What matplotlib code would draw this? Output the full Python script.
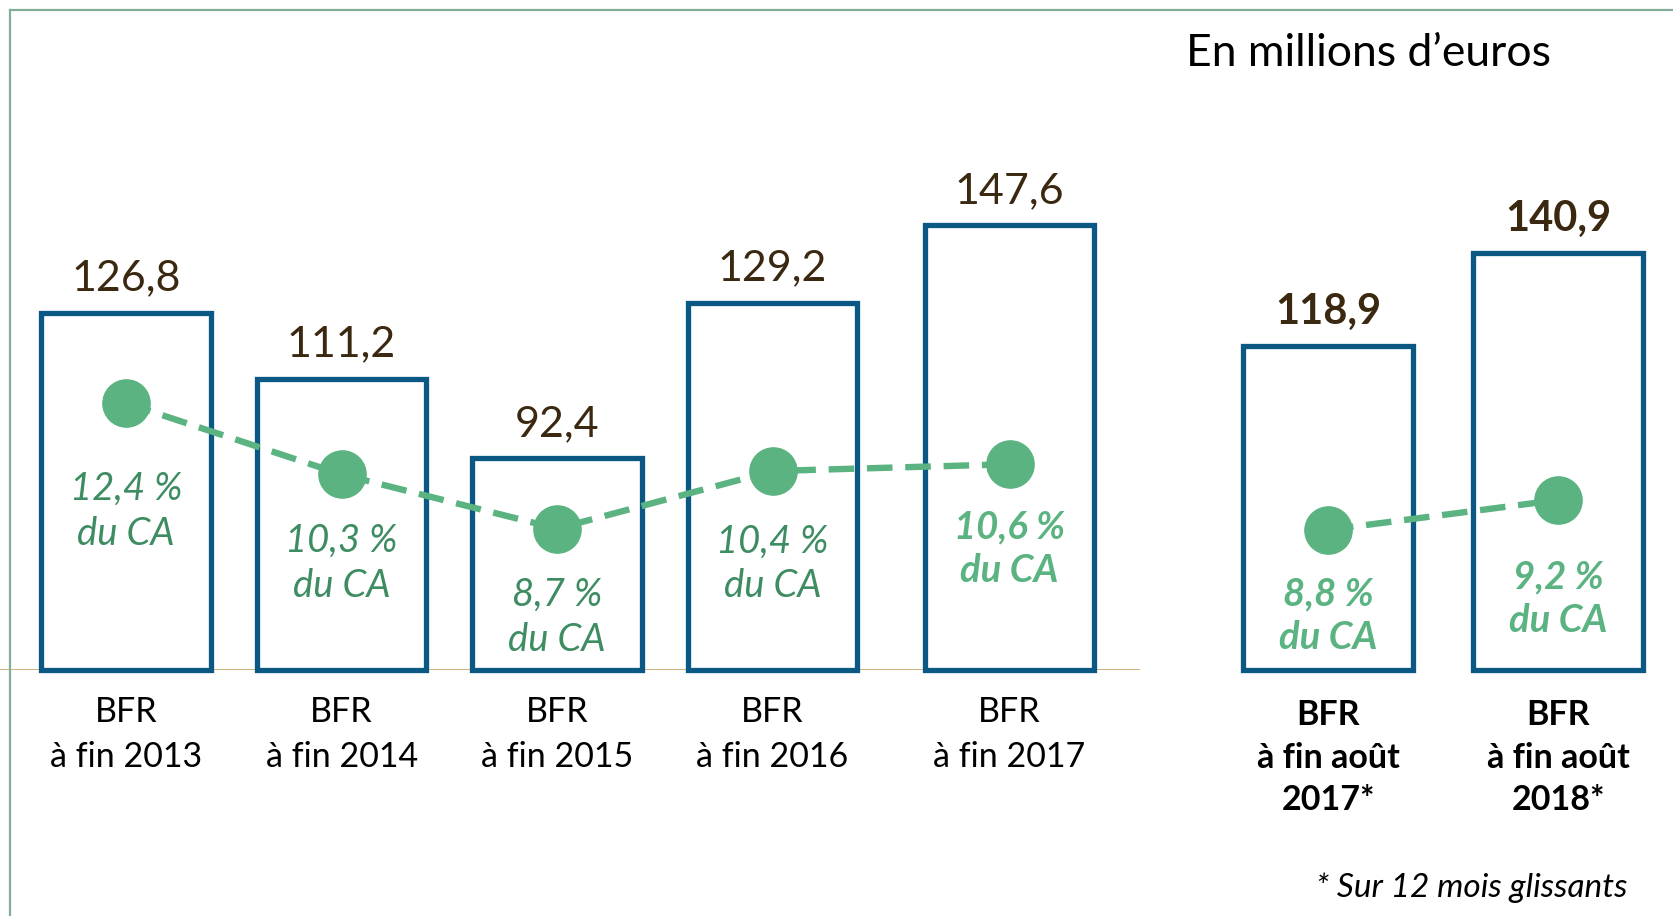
import matplotlib
matplotlib.use("Agg")
import matplotlib.pyplot as plt
from matplotlib.lines import Line2D
import numpy as np

plt.rcParams['font.family'] = ['Lato', 'DejaVu Sans']

# données (millions d'euros, % du CA)
cats_left = ["BFR\nà fin 2013", "BFR\nà fin 2014", "BFR\nà fin 2015", "BFR\nà fin 2016", "BFR\nà fin 2017"]
bfr_left = [126.8, 111.2, 92.4, 129.2, 147.6]
pct_left = [12.4, 10.3, 8.7, 10.4, 10.6]

cats_right = ["BFR\nà fin août\n2017*", "BFR\nà fin août\n2018*"]
bfr_right = [118.9, 140.9]
pct_right = [8.8, 9.2]

# décalage vertical des étiquettes % (points)
dy_left = [-78, -64, -64, -67, -61]
dy_right = [-62, -71]

blue = "#0b5885"
green = "#5bb381"
green_dark = "#3d8c62"
brown = "#3b2810"
frame_col = "#80ae98"

W, H = 1673, 916
fig = plt.figure(figsize=(W / 100, H / 100), dpi=100)

def fmt(v, suffix=""):
    return f"{v:.1f}".replace(".", ",") + suffix

base = 42.3
ytop = 198.5
y0 = (H - 670) / H
hh = 660 / H

# --- groupe de gauche
ax = fig.add_axes([0, y0, 1140 / W, hh])
xl = np.array([0, 1, 2, 3, 4.1])
ax.bar(xl, np.array(bfr_left) - base, bottom=base, width=0.785, facecolor="none",
       edgecolor=blue, linewidth=3.8, clip_on=False, zorder=2)
ax.axhline(base, color="#c4a266", lw=1.2, zorder=1)
ax.set_xlim(-0.585, 4.705)
ax.set_ylim(base, ytop)
for i, v in enumerate(bfr_left):
    ax.annotate(fmt(v), (xl[i], v), xytext=(0, 11), textcoords="offset points",
                ha="center", va="bottom", fontsize=31, color=brown)

ax2 = ax.twinx()
ax2.set_ylim(4.53, 24.0)
ax2.plot(xl, pct_left, color=green, lw=4.6, dashes=(4, 2), zorder=3)
ax2.plot(xl, pct_left, "o", color=green, ms=34, zorder=4)
for i, p in enumerate(pct_left):
    bold = i == len(pct_left) - 1
    ax2.annotate(fmt(p, " %") + "\ndu CA", (xl[i], p), xytext=(0, dy_left[i]), textcoords="offset points",
                 ha="center", va="center", fontsize=27.5, style="italic", linespacing=1.3,
                 color=green if bold else green_dark, fontweight="bold" if bold else "normal")

ax.set_xticks(xl, cats_left)
ax.tick_params(axis="x", length=0, pad=19, labelsize=24.5)
for t in ax.get_xticklabels():
    t.set_linespacing(1.47)
for a in (ax, ax2):
    a.set_yticks([])
    for s in a.spines.values():
        s.set_visible(False)
    a.patch.set_alpha(0)

# --- groupe de droite
bx = fig.add_axes([1150 / W, y0, 523 / W, hh])
xr = np.array([0, 1])
bx.bar(xr, np.array(bfr_right) - base, bottom=base, width=0.735, facecolor="none",
       edgecolor=blue, linewidth=3.8, clip_on=False, zorder=2)
bx.set_xlim(-0.774, 1.5)
bx.set_ylim(base, ytop)
for i, v in enumerate(bfr_right):
    bx.annotate(fmt(v), (xr[i], v), xytext=(0, 11), textcoords="offset points",
                ha="center", va="bottom", fontsize=30, color=brown, fontweight="bold")

bx2 = bx.twinx()
bx2.set_ylim(6.933, 15.733)
bx2.plot(xr, pct_right, color=green, lw=4.6, dashes=(4, 2), zorder=3)
bx2.plot(xr, pct_right, "o", color=green, ms=34, zorder=4)
for i, p in enumerate(pct_right):
    bx2.annotate(fmt(p, " %") + "\ndu CA", (xr[i], p), xytext=(0, dy_right[i]), textcoords="offset points",
                 ha="center", va="center", fontsize=27.5, style="italic", fontweight="bold",
                 linespacing=1.3, color=green)

bx.set_xticks(xr, cats_right)
bx.tick_params(axis="x", length=0, pad=21, labelsize=24.5)
for t in bx.get_xticklabels():
    t.set_fontweight("bold")
    t.set_linespacing(1.4)
for a in (bx, bx2):
    a.set_yticks([])
    for s in a.spines.values():
        s.set_visible(False)
    a.patch.set_alpha(0)

# cadre
fig.add_artist(Line2D([10 / W, 1], [1 - 10 / H] * 2, color=frame_col, lw=1.6))
fig.add_artist(Line2D([10 / W] * 2, [0, 1 - 10 / H], color=frame_col, lw=1.6))

fig.text(1186 / W, 1 - 54 / H, "En millions d\u2019euros", fontsize=32, ha="left", va="center", color="black")
fig.text(1627 / W, 1 - 888 / H, "* Sur 12 mois glissants", fontsize=24, style="italic",
         ha="right", va="center", color="black")

fig.savefig("out.png", dpi=100)
